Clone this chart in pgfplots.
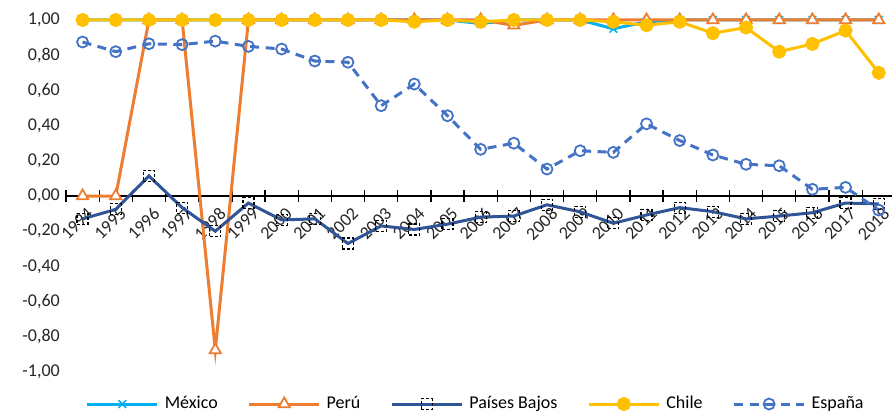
\documentclass[border=0pt]{standalone}
\usepackage{fontspec}
\setmainfont{Carlito}
\usepackage{pgfplots}
\usepackage{pgfplotstable}
\pgfplotsset{compat=1.18}
\definecolor{mex}{HTML}{00B0F0}
\definecolor{per}{HTML}{ED7D31}
\definecolor{pb}{HTML}{2F5597}
\definecolor{chi}{HTML}{FFC000}
\definecolor{esp}{HTML}{4472C4}

\pgfplotstableread{
idx year mex per pb chi esp
0 1994 1.00 0.00 -0.13 1.00 0.875
1 1995 1.00 0.00 -0.076 1.00 0.82
2 1996 1.00 1.00 0.114 1.00 0.865
3 1997 1.00 1.00 -0.066 1.00 0.86
4 1998 1.00 -0.875 -0.20 1.00 0.88
5 1999 1.00 1.00 -0.04 1.00 0.85
6 2000 1.00 1.00 -0.136 1.00 0.835
7 2001 1.00 1.00 -0.13 1.00 0.767
8 2002 1.00 1.00 -0.27 1.00 0.76
9 2003 1.00 1.00 -0.17 1.00 0.513
10 2004 1.00 1.00 -0.19 0.99 0.636
11 2005 1.00 1.00 -0.16 1.00 0.456
12 2006 0.98 1.00 -0.12 0.99 0.265
13 2007 1.00 0.97 -0.114 1.00 0.30
14 2008 1.00 1.00 -0.05 1.00 0.153
15 2009 1.00 1.00 -0.09 1.00 0.257
16 2010 0.95 1.00 -0.155 0.99 0.248
17 2011 0.99 1.00 -0.108 0.97 0.41
18 2012 1.00 1.00 -0.066 0.99 0.315
19 2013 1.00 1.00 -0.089 0.925 0.233
20 2014 1.00 1.00 -0.13 0.957 0.18
21 2015 1.00 1.00 -0.114 0.82 0.172
22 2016 1.00 1.00 -0.095 0.864 0.038
23 2017 1.00 1.00 -0.04 0.94 0.049
24 2018 1.00 1.00 -0.045 0.70 -0.08
}\datatable

\begin{document}
\fontsize{18bp}{21bp}\selectfont
\begin{tikzpicture}
\path[use as bounding box] (-66bp,-42bp) rectangle (826bp,372bp);
\begin{axis}[
 at={(0,0)}, anchor=south west,
 scale only axis, width=826bp, height=352bp,
 xmin=-0.5, xmax=24.4, ymin=-1, ymax=1,
 clip=false,
 axis x line*=middle, axis y line*=left,
 y axis line style={draw=none},
 x axis line style={black, line width=1.3bp},
 xtick={0,...,24},
 xticklabels={1994,1995,1996,1997,1998,1999,2000,2001,2002,2003,2004,2005,2006,2007,2008,2009,2010,2011,2012,2013,2014,2015,2016,2017,2018},
 minor xtick={-0.5,0.5,...,24.5},
 major x tick style={draw=none},
 minor x tick style={black, line width=1.3bp},
 minor tick length=11bp,
 xtick align=center,
 ytick={-1,-0.8,-0.6,-0.4,-0.2,0,0.2,0.4,0.6,0.8,1},
 ytick style={draw=none},
 yticklabel style={/pgf/number format/.cd, use comma, fixed, fixed zerofill, precision=2, assume math mode=true},
 tick label style={font=\fontsize{18bp}{21bp}\selectfont, text=black!85},
 xticklabel style={rotate=45, anchor=north east, inner sep=1pt, yshift=-7bp, xshift=-2.5bp},
 legend style={at={(0.496,-0.091)}, anchor=center, draw=none, fill=none,
   legend columns=5, font=\fontsize{18bp}{21bp}\selectfont,
   /tikz/every odd column/.append style={column sep=4bp},
   /tikz/every even column/.append style={column sep=28bp}},
 legend image code/.code={\draw[mark repeat=2,mark phase=2] plot coordinates {(0bp,0bp) (35bp,0bp) (70bp,0bp)};},
 every axis plot/.append style={line width=3bp},
]
\addplot[mex, mark=x, mark size=5.5bp, mark options={line width=1.5bp, solid}] table[x=idx,y=mex]{\datatable};
\addlegendentry{México}
\addplot[per, mark=triangle*, mark size=6.5bp, mark options={fill=white, line width=1.8bp, solid}] table[x=idx,y=per]{\datatable};
\addlegendentry{Perú}
\addplot[pb, mark=square, mark size=5.5bp, mark options={draw=black, line width=1.2bp, dash pattern=on 3bp off 2bp, fill=none}] table[x=idx,y=pb]{\datatable};
\addlegendentry{Países Bajos}
\addplot[chi, mark=*, mark size=5.5bp, mark options={fill=chi, draw=chi, solid}] table[x=idx,y=chi]{\datatable};
\addlegendentry{Chile}
\addplot[esp, dash pattern=on 9bp off 6.5bp, mark=o, mark size=5.5bp, mark options={fill=white, line width=1.8bp, solid}] table[x=idx,y=esp]{\datatable};
\addlegendentry{España}
\end{axis}
\end{tikzpicture}
\end{document}
